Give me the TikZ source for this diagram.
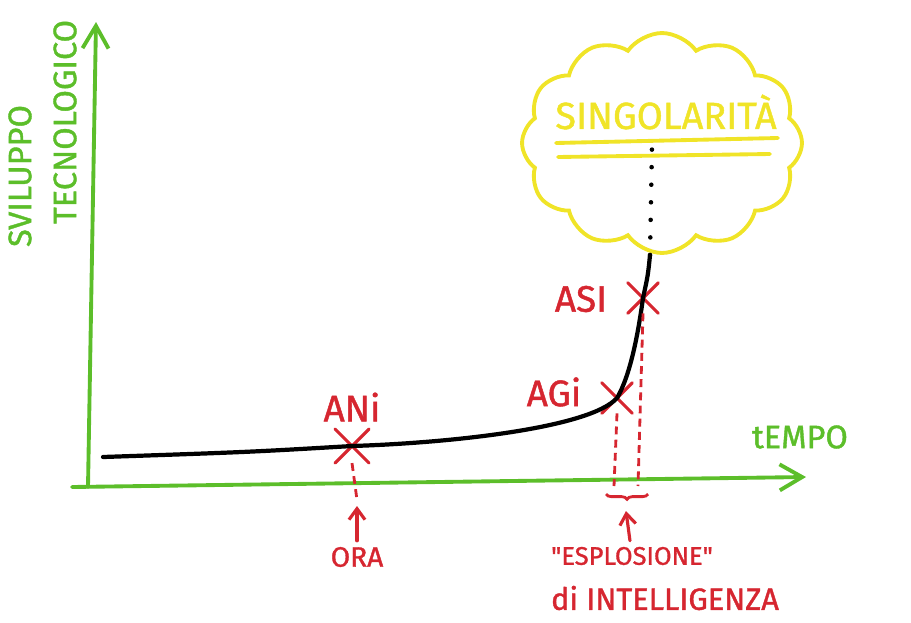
\documentclass[tikz,border=0pt]{standalone}
\usepackage{fontspec}
\usepackage{tikz}
\usetikzlibrary{arrows.meta,shapes.symbols,shapes.misc,decorations.pathreplacing}
\newfontfamily\hand[FakeBold=1.2]{Fira Sans}
\definecolor{penGreen}{RGB}{92,190,42}
\definecolor{penRed}{RGB}{214,38,48}
\definecolor{penYellow}{RGB}{240,228,40}
\newcommand{\fs}[1]{\fontsize{#1}{#1}\selectfont}

\begin{document}
\begin{tikzpicture}[x=0.02cm, y=-0.02cm,
    axis/.style={penGreen, line width=2.2pt, line cap=round,
      -{Straight Barb[length=0.45cm, width=0.52cm, line width=2.2pt]}},
    mark x/.style={cross out, draw=penRed, line width=1.8pt, line cap=round,
      minimum size=0.62cm, inner sep=0pt},
    redtxt/.style={text=penRed, font=\hand\fs{21}},
    greentxt/.style={text=penGreen, font=\hand\fs{18.5}},
    guide/.style={penRed, line width=1.6pt, dash pattern=on 4.5pt off 3pt},
    uparrow/.style={penRed, line width=1.8pt, line cap=round,
      -{Straight Barb[length=0.22cm, width=0.32cm, line width=1.8pt]}}]
  \useasboundingbox (0,0) rectangle (911,622);

  % axes
  \coordinate (O) at (88,487);
  \coordinate (Ytop) at (96,22);
  \coordinate (Xleft) at (72,487);
  \coordinate (Xend) at (806,477);
  \draw [axis] (O) -- (Ytop);
  \draw [axis] (Xleft) -- (Xend);
  \node [greentxt, rotate=90] (svil) at (20,176) {SVILUPPO};
  \node [greentxt, rotate=90] (tecn) at (65,122) {TECNOLOGICO};
  \node [greentxt] (tempo) at (800,437) {tEMPO};

  % singularity cloud
  \node [cloud, draw=penYellow, line width=2.2pt, cloud puffs=12, cloud puff arc=110,
         minimum width=5.6cm, minimum height=4.4cm] (cloud) at (662,143) {};
  \node [text=penYellow, font=\hand\fs{21.5}] (sing) at (666,112) {SINGOLARITÀ};
  \draw [penYellow, line width=2.2pt, line cap=round] (556,143) -- (778,138);
  \draw [penYellow, line width=2.2pt, line cap=round] (558,157) -- (770,154);
  \coordinate (dotEnd) at (652,146);

  % marks
  \node [mark x] (ani) at (352,446) {};
  \node [mark x, minimum size=0.55cm] (agi) at (617,398) {};
  \node [mark x, minimum size=0.55cm] (asi) at (643,298) {};
  \node [redtxt] (aniLbl) at (352,407) {ANi};
  \node [redtxt] (agiLbl) at (554,392) {AGi};
  \node [redtxt] (asiLbl) at (581,299) {ASI};

  % growth curve
  \coordinate (start) at (103,457);
  \coordinate (top) at (650,255);
  \draw [line width=2.4pt, line cap=round] (start) .. controls (250,452) .. (ani.center)
    .. controls (450,443) and (590,428) .. (agi.center)
    .. controls (630,376) and (638,335) .. (asi.center)
    .. controls (648,275) .. (top);
  \draw [line width=2.6pt, line cap=round, dash pattern=on 0pt off 10pt] (top) -- (dotEnd);

  % guides to the time axis
  \coordinate (aniFoot) at (357,500);
  \coordinate (agiFoot) at (614,486);
  \coordinate (asiFoot) at (638,486);
  \draw [guide] (ani.south) -- (aniFoot);
  \draw [guide] (agi.south) -- (agiFoot);
  \draw [guide] (asi.south) -- (asiFoot);
  \draw [penRed, line width=1.6pt, decorate,
         decoration={brace, mirror, amplitude=3pt}] (606,494) -- (648,494);

  % labels below
  \node [redtxt, font=\hand\fs{16}] (ora) at (357,557) {ORA};
  \coordinate (oraTip) at (357,506);
  \draw [uparrow] (ora) -- (oraTip);
  \node [redtxt, font=\hand\fs{14.5}] (esp) at (632,556) {"ESPLOSIONE"};
  \node [redtxt, font=\hand\fs{17.5}] (intel) at (665,598) {di INTELLIGENZA};
  \coordinate (espTip) at (626,511);
  \draw [uparrow] (esp) -- (espTip);
\end{tikzpicture}
\end{document}
